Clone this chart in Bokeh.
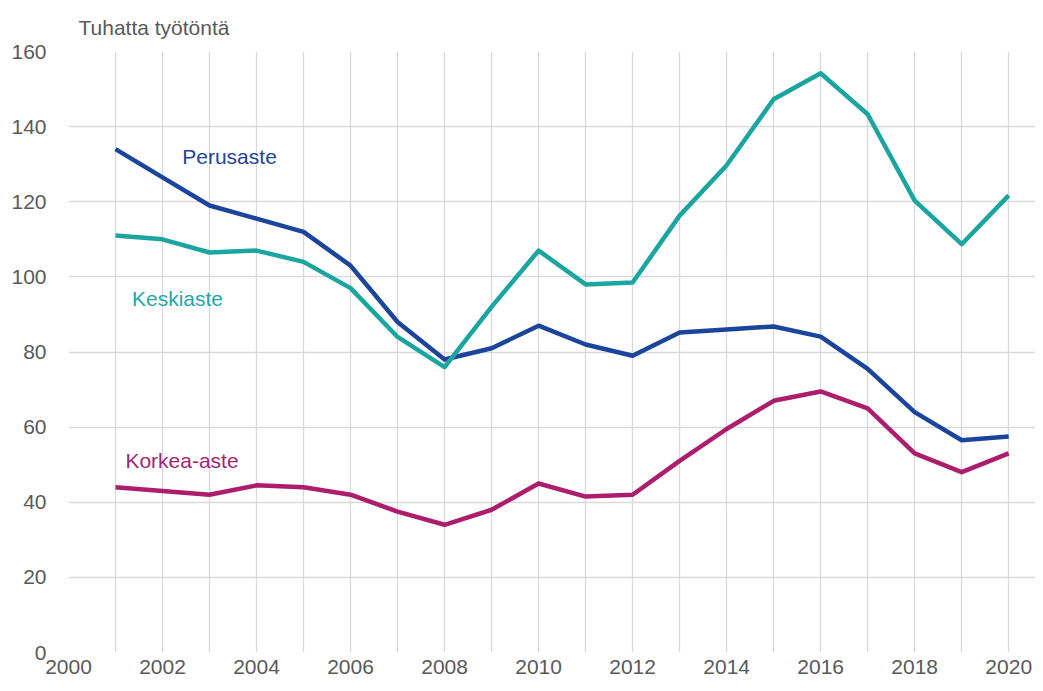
from bokeh.plotting import figure
from bokeh.models import Range1d, FixedTicker, Label
from bokeh.embed import file_html
from bokeh.resources import INLINE

years = list(range(2001, 2021))
perusaste = [134, 126.5, 119, 115.5, 112, 103, 88, 78, 81, 87, 82, 79, 85.2, 86, 86.8, 84.1, 75.5, 64, 56.5, 57.5]
keskiaste = [111, 110, 106.5, 107, 104, 97, 84, 76, 92, 107, 98, 98.5, 116.3, 129.7, 147.3, 154.2, 143.3, 120.3, 108.7, 121.7]
korkea = [44, 43, 42, 44.5, 44, 42, 37.5, 34, 38, 45, 41.5, 42, 51, 59.5, 67, 69.5, 65, 53, 48, 53]

x_ticks = list(range(2000, 2021, 2))
y_ticks = list(range(0, 161, 20))

names = ["Perusaste", "Keskiaste", "Korkea-aste"]
colors = ["#1b449c", "#1aa5a1", "#ad1d6d"]
label_colors = ["#22449a", "#25a8a6", "#a5276f"]
label_pos = [(2002.42, 132.0), (2001.35, 94.2), (2001.21, 51.1)]

FONT = "Liberation Sans"

p = figure(width=1035, height=683, output_backend="svg", toolbar_location=None,
           x_range=Range1d(2000, 2020.57), y_range=Range1d(0, 160),
           min_border_left=68, min_border_right=0, min_border_top=51, min_border_bottom=31)
p.outline_line_color = None
p.background_fill_color = "white"

p.title.text = "Tuhatta työtöntä"
p.title.text_font = FONT
p.title.text_font_size = "21px"
p.title.text_font_style = "normal"
p.title.text_color = "#595959"
p.title.align = "left"
p.title.offset = 10
p.title.standoff = 25

for ax in (p.xaxis[0], p.yaxis[0]):
    ax.axis_line_color = None
    ax.major_tick_line_color = None
    ax.minor_tick_line_color = None
    ax.major_tick_out = 0
    ax.major_tick_in = 0
    ax.major_label_text_font = FONT
    ax.major_label_text_font_size = "21px"
    ax.major_label_text_color = "#595959"

p.xaxis.ticker = FixedTicker(ticks=x_ticks)
p.yaxis.ticker = FixedTicker(ticks=y_ticks)
p.yaxis.major_label_standoff = 22
p.xaxis.major_label_standoff = 7

p.xgrid.ticker = FixedTicker(ticks=list(range(2000, 2021)))
p.ygrid.ticker = FixedTicker(ticks=y_ticks)
p.xgrid.grid_line_color = "#d9d9d9"
p.ygrid.grid_line_color = "#d9d9d9"
p.xgrid.grid_line_width = 1.3
p.ygrid.grid_line_width = 1.3

for name, ys, c, lc, (lx, ly) in zip(names, [perusaste, keskiaste, korkea], colors, label_colors, label_pos):
    p.line(years, ys, line_color=c, line_width=4.5, line_join="round", line_cap="butt")
    p.add_layout(Label(x=lx, y=ly, text=name, text_font=FONT, text_font_size="21px",
                       text_color=lc, text_baseline="middle", text_align="left"))

open("out.html", "w").write(file_html(p, INLINE))
